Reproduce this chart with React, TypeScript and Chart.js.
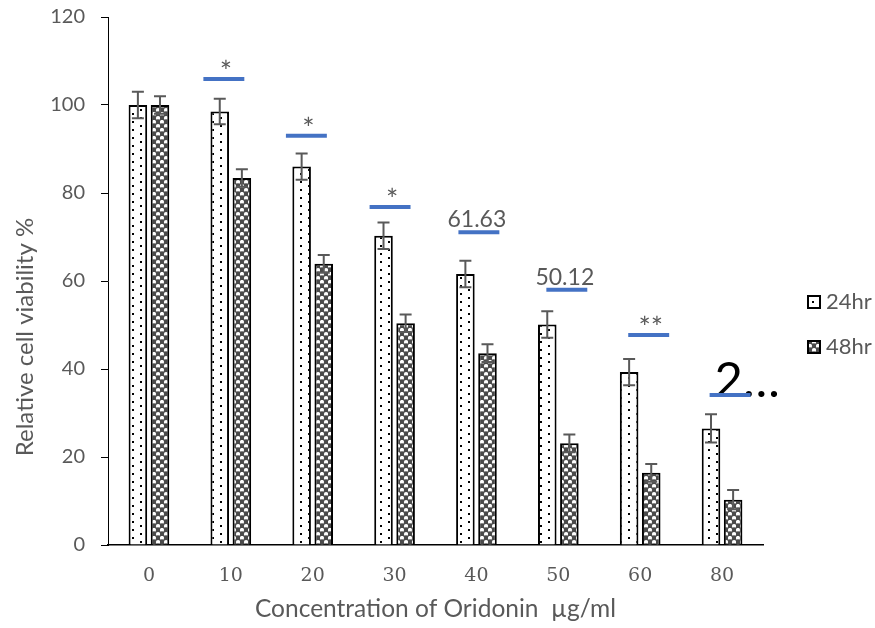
import { useEffect, useRef } from "react";
import { Chart, registerables } from "chart.js";

Chart.register(...registerables);

const categories = ["0", "10", "20", "30", "40", "50", "60", "80"];
const seriesLabels = ["24hr", "48hr"];
const viability24 = [100, 98.5, 86, 70.3, 61.6, 50.1, 39.3, 26.5];
const viability48 = [100, 83.4, 63.9, 50.4, 43.6, 23.1, 16.4, 10.3];
const error24 = [3, 2.9, 3, 3, 3, 3, 3, 3.2];
const error48 = [2, 2, 2, 2, 2, 2, 2, 2.2];
const yMin = 0;
const yMax = 120;
const yStep = 20;

const markCategories = [1, 2, 3, 4, 5, 6, 7];
const markLevels = [105.9, 93.0, 76.8, 71.1, 58.0, 47.7, 34.1];
const markShift = [-0.085, -0.077, -0.055, 0.03, 0.104, 0.104, 0.098];
const markTexts = ["*", "*", "*", "61.63", "50.12", "**", "2…"];

const GREY = "#595959";
const SANS = "Lato, 'Open Sans', sans-serif";
const SERIF = "'DejaVu Serif', serif";

function makeDotPattern(ctx: CanvasRenderingContext2D) {
  const c = document.createElement("canvas");
  c.width = 16;
  c.height = 8;
  const g = c.getContext("2d")!;
  g.fillStyle = "#ffffff";
  g.fillRect(0, 0, 16, 8);
  g.fillStyle = "#000000";
  g.fillRect(4, 1, 2, 2);
  g.fillRect(12, 5, 2, 2);
  return ctx.createPattern(c, "repeat")!;
}

function makeBallPattern(ctx: CanvasRenderingContext2D) {
  const c = document.createElement("canvas");
  c.width = 8;
  c.height = 8;
  const g = c.getContext("2d")!;
  g.fillStyle = "#4a4a4a";
  g.fillRect(0, 0, 8, 8);
  g.fillStyle = "#ffffff";
  g.beginPath();
  g.arc(2, 2, 2.1, 0, Math.PI * 2);
  g.fill();
  g.beginPath();
  g.arc(6, 6, 2.1, 0, Math.PI * 2);
  g.fill();
  g.fillStyle = "#8a8a8a";
  g.fillRect(1, 3, 2, 1);
  g.fillRect(5, 7, 2, 1);
  return ctx.createPattern(c, "repeat")!;
}

const overlayPlugin = {
  id: "overlay",
  afterDatasetsDraw(chart: any) {
    const ctx: CanvasRenderingContext2D = chart.ctx;
    const xs = chart.scales.x;
    const ys = chart.scales.y;
    const errs = [error24, error48];
    errs.forEach((e, di) => {
      const meta = chart.getDatasetMeta(di);
      const vals = chart.data.datasets[di].data as number[];
      meta.data.forEach((el: any, i: number) => {
        const cx = el.x;
        const top = ys.getPixelForValue(vals[i] + e[i]);
        const bot = ys.getPixelForValue(vals[i] - e[i]);
        ctx.save();
        ctx.strokeStyle = GREY;
        ctx.lineWidth = 2;
        ctx.beginPath();
        ctx.moveTo(cx, top);
        ctx.lineTo(cx, bot);
        ctx.moveTo(cx - 6, top);
        ctx.lineTo(cx + 6, top);
        ctx.moveTo(cx - 6, bot);
        ctx.lineTo(cx + 6, bot);
        ctx.stroke();
        ctx.restore();
      });
    });
    const catW = (xs.right - xs.left) / categories.length;
    markCategories.forEach((ci, k) => {
      const cx = xs.getPixelForValue(ci) + markShift[k] * catW;
      const py = ys.getPixelForValue(markLevels[k]);
      const half = catW * 0.25;
      const txt = markTexts[k];
      ctx.save();
      ctx.textBaseline = "alphabetic";
      if (txt === "2…") {
        ctx.font = `49px ${SANS}`;
        ctx.fillStyle = "#000000";
        ctx.textAlign = "left";
        ctx.fillText(txt, cx - half + 5, py + 2);
      } else if (txt.startsWith("*")) {
        ctx.font = `29px ${SANS}`;
        ctx.fillStyle = GREY;
        ctx.textAlign = "center";
        ctx.fillText(txt, cx + 2, py + 3);
      } else {
        ctx.font = `23px ${SANS}`;
        ctx.fillStyle = GREY;
        ctx.textAlign = "center";
        ctx.fillText(txt, cx - 2, py - 5);
      }
      ctx.strokeStyle = "#4472C4";
      ctx.lineWidth = 4;
      ctx.beginPath();
      ctx.moveTo(cx - half, py);
      ctx.lineTo(cx + half, py);
      ctx.stroke();
      ctx.restore();
    });
  },
  afterDraw(chart: any) {
    const ctx: CanvasRenderingContext2D = chart.ctx;
    ctx.save();
    ctx.translate(25, 337);
    ctx.rotate(-Math.PI / 2);
    ctx.font = `24px ${SANS}`;
    ctx.fillStyle = GREY;
    ctx.textAlign = "center";
    ctx.textBaseline = "middle";
    ctx.fillText("Relative cell viability %", 0, 0);
    ctx.restore();
    chart.data.datasets.forEach((ds: any, i: number) => {
      const lx = 807;
      const ly = 295 + i * 45;
      ctx.save();
      ctx.fillStyle = ds.backgroundColor;
      ctx.fillRect(lx, ly, 14, 14);
      ctx.strokeStyle = "#000";
      ctx.lineWidth = 2;
      ctx.strokeRect(lx + 1, ly + 1, 12, 12);
      ctx.font = `22px ${SANS}`;
      ctx.fillStyle = GREY;
      ctx.textAlign = "left";
      ctx.textBaseline = "middle";
      ctx.fillText(ds.label, 826, ly + 7);
      ctx.restore();
    });
  },
};

export default function App() {
  const ref = useRef<HTMLCanvasElement | null>(null);
  useEffect(() => {
    document.body.style.margin = "0";
    const canvas = ref.current!;
    const ctx = canvas.getContext("2d")!;
    const dots = makeDotPattern(ctx);
    const balls = makeBallPattern(ctx);
    const chart = new Chart(canvas, {
      type: "bar",
      data: {
        labels: categories,
        datasets: [
          {
            label: seriesLabels[0],
            data: viability24,
            backgroundColor: dots as any,
            borderColor: "#000",
            borderWidth: 2,
            borderSkipped: "bottom",
            categoryPercentage: 0.54,
            barPercentage: 0.84,
          },
          {
            label: seriesLabels[1],
            data: viability48,
            backgroundColor: balls as any,
            borderColor: "#000",
            borderWidth: 2,
            borderSkipped: "bottom",
            categoryPercentage: 0.54,
            barPercentage: 0.84,
          },
        ],
      },
      options: {
        responsive: false,
        animation: false,
        devicePixelRatio: 1,
        layout: { padding: { left: 0, top: 17, right: 112, bottom: 0 } },
        plugins: {
          legend: { display: false },
          tooltip: { enabled: false },
          title: { display: false },
        },
        scales: {
          x: {
            grid: { display: false, drawTicks: false },
            border: { color: "#000", width: 1.5 },
            ticks: {
              color: GREY,
              font: { family: SERIF, size: 19 },
              padding: 20,
            },
            title: {
              display: true,
              text: "Concentration of Oridonin  µg/ml",
              color: GREY,
              font: { family: SANS, size: 24.5 },
              padding: { top: 0, bottom: 4 },
            },
            afterFit: (s: any) => {
              s.height = 83;
            },
          },
          y: {
            min: yMin,
            max: yMax,
            ticks: {
              stepSize: yStep,
              color: GREY,
              font: { family: SANS, size: 20 },
              padding: 16,
            },
            grid: {
              drawOnChartArea: false,
              drawTicks: true,
              tickLength: 7,
              color: "#000",
            },
            border: { color: "#000", width: 1 },
            afterFit: (s: any) => {
              s.width = 108;
              s.paddingTop = 0;
              s.paddingBottom = 0;
            },
          },
        },
      },
      plugins: [overlayPlugin],
    });
    return () => chart.destroy();
  }, []);
  return (
    <div style={{ width: 875, height: 628 }}>
      <canvas ref={ref} width={875} height={628} />
    </div>
  );
}
